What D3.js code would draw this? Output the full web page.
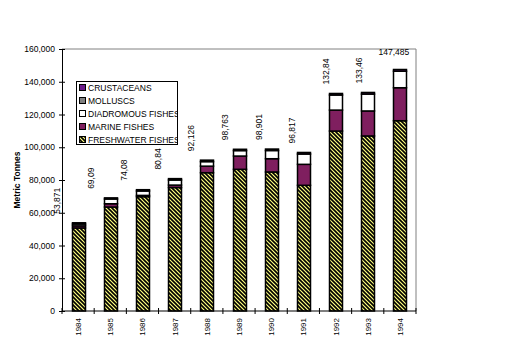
<!DOCTYPE html>
<html><head><meta charset="utf-8">
<script src="https://cdn.jsdelivr.net/npm/d3@7"></script>
<style>body{margin:0;background:#fff}svg{display:block}</style>
</head><body>
<script>
const years = ["1984","1985","1986","1987","1988","1989","1990","1991","1992","1993","1994"];
const freshwater = [50700, 63500, 69800, 75400, 84460, 86530, 84900, 76770, 109900, 106900, 116200];
const marine     = [1300, 2000, 800, 1500, 4000, 8100, 8100, 12800, 12800, 15270, 20150];
const diadromous = [1100, 2900, 2700, 3100, 2766, 3333, 5001, 6297, 9200, 10300, 10100];
const molluscs   = [0, 0, 0, 0, 0, 0, 0, 0, 0, 0, 0];
const crustaceans= [771, 690, 780, 840, 900, 800, 900, 950, 940, 990, 1035];
const totalLabels = ["53,871","69,09","74,08","80,84","92,126","98,763","98,901","96,817","132,84","133,46","147,485"];
const yTicks = [0,20000,40000,60000,80000,100000,120000,140000,160000];
const seriesNames = ["FRESHWATER FISHES","MARINE FISHES","DIADROMOUS FISHES","MOLLUSCS","CRUSTACEANS"];
const seriesColors = ["url(#hatch)","#7f1f5f","#ffffff","#808080","#6a1a8a"];

const W=508,H=340;
const svg=d3.select("body").append("svg").attr("width",W).attr("height",H);
const defs=svg.append("defs");
const pat=defs.append("pattern").attr("id","hatch").attr("patternUnits","userSpaceOnUse")
  .attr("width",4).attr("height",4);
pat.append("rect").attr("width",4).attr("height",4).attr("fill","#ffff80");
pat.append("path").attr("d","M-1,-1 L5,5 M-1,3 L1,5 M3,-1 L5,1").attr("stroke","#000").attr("stroke-width",1.6);

const L=62,R=416,T=49,B=311;
const x=d3.scaleBand().domain(years).range([L,R]).paddingInner(0.6).paddingOuter(0.3);
const xb=d3.scaleBand().domain(years).range([L,R]);
const y=d3.scaleLinear().domain([0,160000]).range([B,T]);

// plot border (gray)
svg.append("path").attr("d",`M${L},${T}H${R}V${B}`).attr("fill","none").attr("stroke","#808080").attr("stroke-width",1);

const rows=years.map((yr,i)=>({year:yr,FW:freshwater[i],MA:marine[i],DI:diadromous[i],MO:molluscs[i],CR:crustaceans[i]}));
const keys=["FW","MA","DI","MO","CR"];
const stack=d3.stack().keys(keys)(rows);
stack.forEach((s,k)=>{
  svg.append("g").selectAll("rect").data(s).join("rect")
    .attr("x",d=>Math.round(x(d.data.year))+0.5)
    .attr("width",13)
    .attr("y",d=>y(d[1]))
    .attr("height",d=>Math.max(0,y(d[0])-y(d[1])))
    .attr("fill",seriesColors[k])
    .attr("stroke","#000").attr("stroke-width",1.5);
});

// axes
const ya=svg.append("g").attr("transform",`translate(${L},0)`)
  .call(d3.axisLeft(y).tickValues(yTicks).tickFormat(d3.format(",")).tickSizeInner(3).tickSizeOuter(0).tickPadding(4));
ya.selectAll(".tick line").attr("x2",3).attr("x1",-3);
ya.select(".domain").attr("stroke","#000");
ya.selectAll("text").attr("font-family","Liberation Sans, Arial, sans-serif").attr("font-size",8.5).attr("fill","#000");

const xa=svg.append("g").attr("transform",`translate(0,${B})`);
xa.append("line").attr("x1",L).attr("x2",R).attr("y1",0).attr("y2",0).attr("stroke","#000");
years.concat(["end"]).forEach((yr,i)=>{
  const px = i<years.length ? xb(yr) : R;
  xa.append("line").attr("x1",px).attr("x2",px).attr("y1",-3).attr("y2",3).attr("stroke","#000");
});
xa.selectAll("text").data(years).join("text")
  .attr("transform",d=>`translate(${xb(d)+xb.bandwidth()/2+3},${7}) rotate(-90)`)
  .attr("text-anchor","end")
  .attr("font-family","Liberation Sans, Arial, sans-serif").attr("font-size",8).text(d=>d);

// total labels
svg.append("g").selectAll("text").data(years).join("text")
  .each(function(d,i){
    const cx=xb(d)+xb.bandwidth()/2;
    const tot=freshwater[i]+marine[i]+diadromous[i]+molluscs[i]+crustaceans[i];
    const el=d3.select(this).attr("font-family","Liberation Sans, Arial, sans-serif").attr("font-size",8.5).text(totalLabels[i]);
    if(i===years.length-1){
      el.attr("x",cx-6).attr("y",y(tot)-14).attr("text-anchor","middle");
    } else {
      const off=-18+i*1.4;
      el.attr("transform",`translate(${cx+off},${y(tot)-9}) rotate(-90)`).attr("text-anchor","start");
    }
  });

// y title
svg.append("text").attr("transform",`translate(20,180) rotate(-90)`).attr("text-anchor","middle")
  .attr("font-family","Liberation Sans, Arial, sans-serif").attr("font-weight","bold").attr("font-size",8.5).text("Metric Tonnes");

// legend
const lg=svg.append("g");
lg.append("rect").attr("x",76.5).attr("y",81.5).attr("width",101).attr("height",63).attr("fill","#fff").attr("stroke","#000");
const legOrder=[4,3,2,1,0];
const lclip=defs.append("clipPath").attr("id","lc").append("rect").attr("x",76).attr("y",81).attr("width",101).attr("height",63);
const lgi=lg.append("g").attr("clip-path","url(#lc)");
legOrder.forEach((k,j)=>{
  const cy=88+j*13;
  lgi.append("rect").attr("x",79.5).attr("y",cy-3.5).attr("width",6).attr("height",6)
    .attr("fill",seriesColors[k]).attr("stroke","#000");
  lgi.append("text").attr("x",88).attr("y",cy+3).attr("font-family","Liberation Sans, Arial, sans-serif")
    .attr("font-size",8.5).text(seriesNames[k]);
});
lg.append("line").attr("x1",177.5).attr("x2",177.5).attr("y1",81.5).attr("y2",144.5).attr("stroke","#000");
</script>
</body></html>
